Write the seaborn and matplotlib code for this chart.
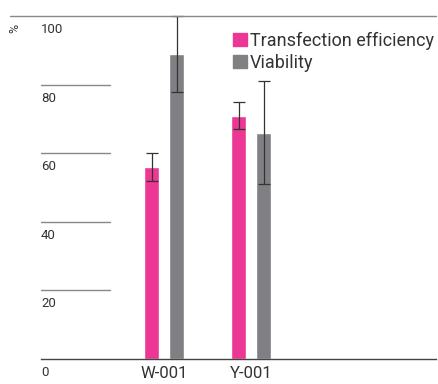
import pandas as pd
import matplotlib.pyplot as plt
import seaborn as sns
from matplotlib.patches import Patch

samples = ["W-001", "Y-001"]
transfection = [56, 71]
transfection_err = [4, 4]
viability = [89, 66]
viability_err = [11, 15]

df = pd.DataFrame({
    "sample": samples * 2,
    "value": transfection + viability,
    "err": transfection_err + viability_err,
    "metric": ["Transfection efficiency"] * 2 + ["Viability"] * 2,
})

pink = "#EC3894"
grey = "#808084"
text_col = "#333333"

sns.set_style("white")
plt.rcParams["font.family"] = ["Roboto", "DejaVu Sans"]

fig = plt.figure(figsize=(4.38, 3.84), dpi=100)
ax = fig.add_axes([0.0936, 0.065, 0.9018, 0.893])

sns.barplot(data=df, x="sample", y="value", hue="metric",
            palette=[pink, grey], width=0.575, gap=0.4, saturation=1,
            errorbar=None, legend=False, ax=ax)

# error bars from the drawn bars
for bar, (_, row) in zip(ax.patches, df.iterrows()):
    cx = bar.get_x() + bar.get_width() / 2
    ax.errorbar(cx, row["value"], yerr=row["err"], color=text_col,
                lw=0.9, capsize=4, capthick=0.9, clip_on=False)

ax.set_ylim(0, 100)
ax.set_xlim(-1.414, 3.126)
sns.despine(ax=ax, left=True, top=True, right=True, bottom=False)
ax.spines["bottom"].set_color("#444444")
ax.spines["bottom"].set_linewidth(1)

# short grid lines and the top rule
for v in [20, 40, 60, 80]:
    ax.axhline(v, xmin=0, xmax=0.175, color="#888888", lw=1)
ax.axhline(100, xmin=-0.078, xmax=1.0, color="#888888", lw=1, clip_on=False)

ax.set_yticks([])
for v in [0, 20, 40, 60, 80, 100]:
    ax.text(0, v - 2, str(v), transform=ax.get_yaxis_transform(),
            ha="left", va="top", fontsize=9.5, color=text_col)
fig.text(0.035, 0.925, "%", rotation=90, ha="center", va="center",
         fontsize=9, color=text_col)

ax.set_xlabel("")
ax.set_ylabel("")
ax.tick_params(axis="x", length=0, labelsize=12, labelcolor=text_col, pad=5)

handles = [Patch(color=pink, label="Transfection efficiency"),
           Patch(color=grey, label="Viability")]
fig.legend(handles=handles, loc="upper left", bbox_to_anchor=(0.532, 0.918),
           frameon=False, fontsize=13, handlelength=0.75, handleheight=0.75,
           handletextpad=0.2, labelspacing=0.25, borderaxespad=0,
           borderpad=0, labelcolor=text_col)

fig.savefig("out.png", dpi=100)
